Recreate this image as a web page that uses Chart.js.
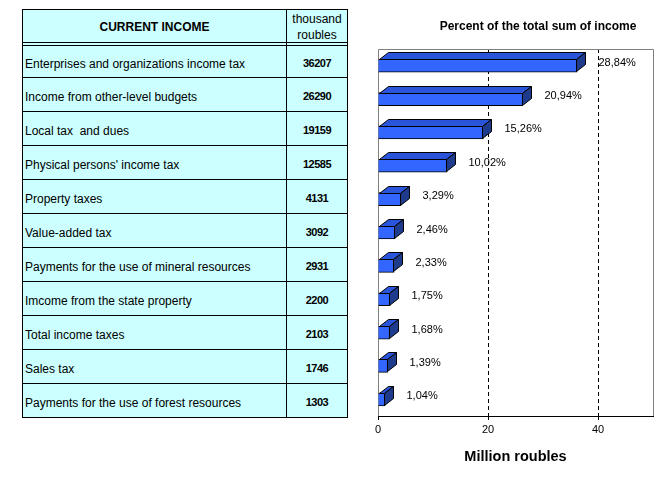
<!DOCTYPE html>
<html>
<head>
<meta charset="utf-8">
<script src="https://cdn.jsdelivr.net/npm/chart.js@4"></script>
<style>
html,body{margin:0;padding:0;background:#fff;width:660px;height:480px;overflow:hidden;font-family:"Liberation Sans",Arial,sans-serif;}
#tbl{position:absolute;left:0;top:0;width:660px;height:480px;}
.bg{position:absolute;background:#CCFFFF;}
.ln{position:absolute;background:#000;}
.txt{position:absolute;display:flex;align-items:center;box-sizing:border-box;color:#000;white-space:pre;}
#wrap{position:absolute;left:0;top:0;width:660px;height:480px;}
</style>
</head>
<body>
<div id="tbl"></div>
<div id="wrap"><canvas id="c" width="660" height="480"></canvas></div>
<script>
// ---- data ----
const categories = [
  "Enterprises and organizations income tax",
  "Income from other-level budgets",
  "Local tax  and dues",
  "Physical persons' income tax",
  "Property taxes",
  "Value-added tax",
  "Payments for the use of mineral resources",
  "Imcome from the state property",
  "Total income taxes",
  "Sales tax",
  "Payments for the use of forest resources"
];
const thousandRoubles = [36207, 26290, 19159, 12585, 4131, 3092, 2931, 2200, 2103, 1746, 1303];
const percentOfTotal = [28.84, 20.94, 15.26, 10.02, 3.29, 2.46, 2.33, 1.75, 1.68, 1.39, 1.04];
const xTicks = [0, 20, 40];
const headerLabels = ["CURRENT INCOME", "thousand\nroubles"];
const chartTitle = "Percent of the total sum of income";
const axisTitle = "Million roubles";

// ---- table (HTML, built from the arrays) ----
(function buildTable(){
  const T = {left:22, top:9, right:347, col:286, h1:42, h2:45, firstLine:77, rowH:34};
  const bottom = T.firstLine + T.rowH * (categories.length - 1);
  const root = document.getElementById('tbl');
  function add(cls, l, t, w, h, html, style){
    const d = document.createElement('div');
    d.className = cls;
    d.style.left = l + 'px'; d.style.top = t + 'px';
    d.style.width = w + 'px'; d.style.height = h + 'px';
    if (style) Object.assign(d.style, style);
    if (html !== undefined) d.textContent = html;
    root.appendChild(d);
    return d;
  }
  add('bg', T.left, T.top, T.right - T.left + 1, bottom - T.top + 1);
  [T.left, T.col, T.right].forEach(x => add('ln', x, T.top, 1, bottom - T.top + 1));
  add('ln', T.left, T.top, T.right - T.left + 1, 1);
  add('ln', T.left, T.h1, T.right - T.left + 1, 1);
  add('ln', T.left, T.h2, T.right - T.left + 1, 1);
  for (let k = 0; k < categories.length; k++) {
    add('ln', T.left, T.firstLine + T.rowH * k, T.right - T.left + 1, 1);
  }
  add('txt', T.left + 1, T.top + 1, T.col - T.left - 1, T.h1 - T.top - 1, headerLabels[0],
      {justifyContent:'center', fontWeight:'bold', fontSize:'12px', paddingTop:'2px'});
  add('txt', T.col + 1, T.top + 2, T.right - T.col - 1, T.h1 - T.top - 1, headerLabels[1],
      {justifyContent:'center', textAlign:'center', fontSize:'12px', lineHeight:'16px'});
  categories.forEach((name, k) => {
    const y0 = k === 0 ? T.h2 + 1 : T.firstLine + T.rowH * (k - 1) + 1;
    const y1 = T.firstLine + T.rowH * k;
    add('txt', T.left + 1, y0, T.col - T.left - 1, y1 - y0, name,
        {paddingLeft:'2px', paddingTop:'4px', fontSize:'12px'});
    add('txt', T.col + 1, y0, T.right - T.col - 1, y1 - y0, String(thousandRoubles[k]),
        {justifyContent:'center', paddingTop:'3px', fontSize:'11px', fontWeight:'bold', letterSpacing:'-0.5px'});
  });
})();

// ---- chart ----
const millionRoubles = thousandRoubles.map(v => v / 1000);
const DX = 9, DY = 7;
const FONT = '"Liberation Sans", Arial, sans-serif';

const bar3d = {
  id: 'bar3d',
  beforeDatasetsDraw(chart) {
    const {ctx, chartArea: a} = chart;
    ctx.save();
    ctx.strokeStyle = '#808080';
    ctx.lineWidth = 1;
    ctx.beginPath();
    ctx.moveTo(a.left + 0.5, a.bottom);
    ctx.lineTo(a.left + 0.5, a.top + 0.5);
    ctx.lineTo(a.right + 0.5, a.top + 0.5);
    ctx.lineTo(a.right + 0.5, a.bottom);
    ctx.stroke();
    ctx.strokeStyle = '#000';
    ctx.beginPath();
    ctx.moveTo(a.left, a.bottom + 0.5);
    ctx.lineTo(a.right + 1, a.bottom + 0.5);
    ctx.stroke();
    ctx.restore();
  },
  afterDatasetsDraw(chart) {
    const {ctx} = chart;
    const meta = chart.getDatasetMeta(0);
    ctx.save();
    ctx.lineWidth = 1;
    ctx.strokeStyle = '#000';
    ctx.lineJoin = 'miter';
    meta.data.forEach((el, i) => {
      const p = el.getProps(['x', 'y', 'base', 'height'], true);
      const x0 = Math.round(p.base) + 0.5;
      const x1 = Math.round(p.x) - 0.5;
      const top = Math.round(p.y - p.height / 2) + 0.5;
      const bot = Math.round(p.y + p.height / 2) - 0.5;
      ctx.fillStyle = '#2A55DA';
      ctx.beginPath();
      ctx.moveTo(x0, top);
      ctx.lineTo(x0 + DX, top - DY);
      ctx.lineTo(x1 + DX, top - DY);
      ctx.lineTo(x1, top);
      ctx.closePath();
      ctx.fill(); ctx.stroke();
      ctx.fillStyle = '#1F3C8C';
      ctx.beginPath();
      ctx.moveTo(x1, top);
      ctx.lineTo(x1 + DX, top - DY);
      ctx.lineTo(x1 + DX, bot - DY);
      ctx.lineTo(x1, bot);
      ctx.closePath();
      ctx.fill(); ctx.stroke();
      ctx.fillStyle = '#000';
      ctx.font = '11px ' + FONT;
      ctx.textAlign = 'left';
      ctx.textBaseline = 'middle';
      const label = percentOfTotal[i].toFixed(2).replace('.', ',') + '%';
      ctx.fillText(label, x1 + DX + 13, p.y - 3);
    });
    ctx.restore();
  },
  afterDraw(chart) {
    const {ctx} = chart;
    ctx.save();
    ctx.fillStyle = '#000';
    ctx.font = 'bold 12px ' + FONT;
    ctx.textAlign = 'center';
    ctx.textBaseline = 'middle';
    ctx.fillText(chartTitle, 538, 27);
    ctx.restore();
  }
};

new Chart(document.getElementById('c'), {
  type: 'bar',
  data: {
    labels: categories,
    datasets: [{
      data: millionRoubles,
      backgroundColor: '#3366FF',
      borderColor: '#000000',
      borderWidth: 1,
      barThickness: 13
    }]
  },
  options: {
    indexAxis: 'y',
    responsive: false,
    animation: false,
    devicePixelRatio: 1,
    layout: {padding: {left: 378, right: 7, top: 49, bottom: 0}},
    plugins: {legend: {display: false}, tooltip: {enabled: false}, title: {display: false}},
    scales: {
      y: {display: false},
      x: {
        min: 0, max: 50,
        afterBuildTicks(scale) { scale.ticks = xTicks.map(v => ({value: v})); },
        afterFit(scale) { scale.height = 64; scale.paddingLeft = 0; scale.paddingRight = 0; },
        ticks: {
          color: '#000', font: {family: FONT, size: 11}, padding: 3, maxRotation: 0,
          callback: v => String(v)
        },
        grid: {
          display: true,
          drawOnChartArea: true,
          drawTicks: true,
          tickLength: 4,
          color: c => (c.tick && c.tick.value === 0) ? 'rgba(0,0,0,0)' : '#000',
          tickColor: '#000',
          lineWidth: 1
        },
        border: {display: false, dash: [4, 3]},
        title: {
          display: true, text: axisTitle, color: '#000',
          font: {family: FONT, size: 14.5, weight: 'bold'},
          padding: {top: 0, bottom: 14}
        }
      }
    }
  },
  plugins: [bar3d]
});
</script>
</body>
</html>
